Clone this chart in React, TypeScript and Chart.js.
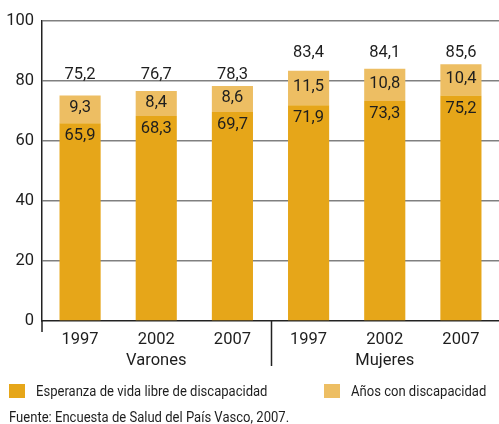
import React, { useEffect, useRef } from "react";
import { Chart, registerables } from "chart.js";

Chart.register(...registerables);

const years = ["1997", "2002", "2007", "1997", "2002", "2007"];
const groups = ["Varones", "Mujeres"];
const libreDiscapacidad = [65.9, 68.3, 69.7, 71.9, 73.3, 75.2];
const conDiscapacidad = [9.3, 8.4, 8.6, 11.5, 10.8, 10.4];
const totales = [75.2, 76.7, 78.3, 83.4, 84.1, 85.6];
const seriesNames = ["Esperanza de vida libre de discapacidad", "Años con discapacidad"];
const fuente = "Fuente: Encuesta de Salud del País Vasco, 2007.";

const DARK = "#E6A619";
const LIGHT = "#EDBE63";
const TEXT = "#1e1e1e";
const FONT = "Roboto, 'Noto Sans', sans-serif";

const fmt = (v: number) => v.toFixed(1).replace(".", ",");

const labelsPlugin = {
  id: "customLabels",
  afterDraw(chart: any) {
    const ctx = chart.ctx;
    const area = chart.chartArea;
    const xs = chart.scales.x;
    const m0 = chart.getDatasetMeta(0).data;
    const m1 = chart.getDatasetMeta(1).data;
    ctx.save();
    ctx.fillStyle = TEXT;
    ctx.textAlign = "center";
    ctx.textBaseline = "middle";
    ctx.font = `16.5px ${FONT}`;
    m0.forEach((b: any, i: number) => {
      ctx.fillText(fmt(libreDiscapacidad[i]), b.x, b.y + 13);
    });
    m1.forEach((b: any, i: number) => {
      ctx.fillText(fmt(conDiscapacidad[i]), b.x, (b.y + b.base) / 2 - 1);
    });
    const groupSize = 3;
    for (let g = 0; g < groups.length; g++) {
      let minTop = Infinity;
      for (let k = 0; k < groupSize; k++) minTop = Math.min(minTop, m1[g * groupSize + k].y);
      for (let k = 0; k < groupSize; k++) {
        const i = g * groupSize + k;
        ctx.fillText(fmt(totales[i]), m1[i].x, minTop - 11);
      }
    }
    ctx.strokeStyle = "#222";
    ctx.lineWidth = 1.5;
    ctx.beginPath();
    ctx.moveTo(area.left, area.bottom);
    ctx.lineTo(area.left, area.bottom + 11);
    const step = (area.right - area.left) / years.length;
    const divX = Math.round(area.left + step * groupSize) + 0.5;
    ctx.moveTo(divX, area.bottom);
    ctx.lineTo(divX, area.bottom + 45);
    ctx.stroke();
    ctx.font = `16.5px ${FONT}`;
    for (let g = 0; g < groups.length; g++) {
      const center = (xs.getPixelForValue(g * groupSize) + xs.getPixelForValue(g * groupSize + groupSize - 1)) / 2;
      ctx.fillText(groups[g], center, area.bottom + 40);
    }
    ctx.restore();
  },
};

export default function App() {
  const ref = useRef<HTMLCanvasElement>(null);
  useEffect(() => {
    if (!ref.current) return;
    const chart = new Chart(ref.current, {
      type: "bar",
      data: {
        labels: years,
        datasets: [
          { label: seriesNames[0], data: libreDiscapacidad, backgroundColor: DARK, borderWidth: 0 },
          { label: seriesNames[1], data: conDiscapacidad, backgroundColor: LIGHT, borderWidth: 0 },
        ],
      },
      options: {
        animation: false,
        responsive: false,
        maintainAspectRatio: false,
        devicePixelRatio: 1,
        layout: { padding: { top: 21, right: 0, left: 0, bottom: 0 } },
        datasets: { bar: { barPercentage: 0.54, categoryPercentage: 1 } },
        plugins: { legend: { display: false }, tooltip: { enabled: false } },
        scales: {
          x: {
            stacked: true,
            grid: { display: false, drawTicks: false },
            border: { display: true, color: "#222", width: 1.5 },
            ticks: { color: TEXT, font: { family: FONT, size: 16.5 }, padding: 9, maxRotation: 0 },
            afterFit: (s: any) => {
              s.height = 103;
            },
          },
          y: {
            stacked: true,
            min: 0,
            max: 100,
            ticks: { stepSize: 20, color: TEXT, font: { family: FONT, size: 16.5 }, padding: 8 },
            grid: {
              drawTicks: false,
              color: (c: any) => (c.tick && c.tick.value === 0 ? "rgba(0,0,0,0)" : "#808080"),
              lineWidth: 1.5,
            },
            border: { display: true, color: "#222", width: 1.5 },
            afterFit: (s: any) => {
              s.width = 42;
            },
          },
        },
      },
      plugins: [labelsPlugin],
    });
    return () => chart.destroy();
  }, []);

  const legendText: React.CSSProperties = {
    position: "absolute",
    fontFamily: FONT,
    fontSize: 15,
    color: TEXT,
    lineHeight: "16px",
    whiteSpace: "nowrap",
    transformOrigin: "left center",
    transform: "scaleX(0.87)",
  };
  return (
    <div style={{ position: "fixed", left: 0, top: 0, width: 499, height: 424, background: "#fff" }}>
      <canvas ref={ref} width={499} height={424} style={{ position: "absolute", left: 0, top: 0, width: 499, height: 424 }} />
      <div style={{ position: "absolute", left: 9, top: 384, width: 16, height: 14, background: DARK }} />
      <div style={{ ...legendText, left: 36, top: 383 }}>{seriesNames[0]}</div>
      <div style={{ position: "absolute", left: 324, top: 384, width: 16, height: 14, background: LIGHT }} />
      <div style={{ ...legendText, left: 351, top: 383 }}>{seriesNames[1]}</div>
      <div style={{ ...legendText, left: 9, top: 409 }}>{fuente}</div>
    </div>
  );
}
